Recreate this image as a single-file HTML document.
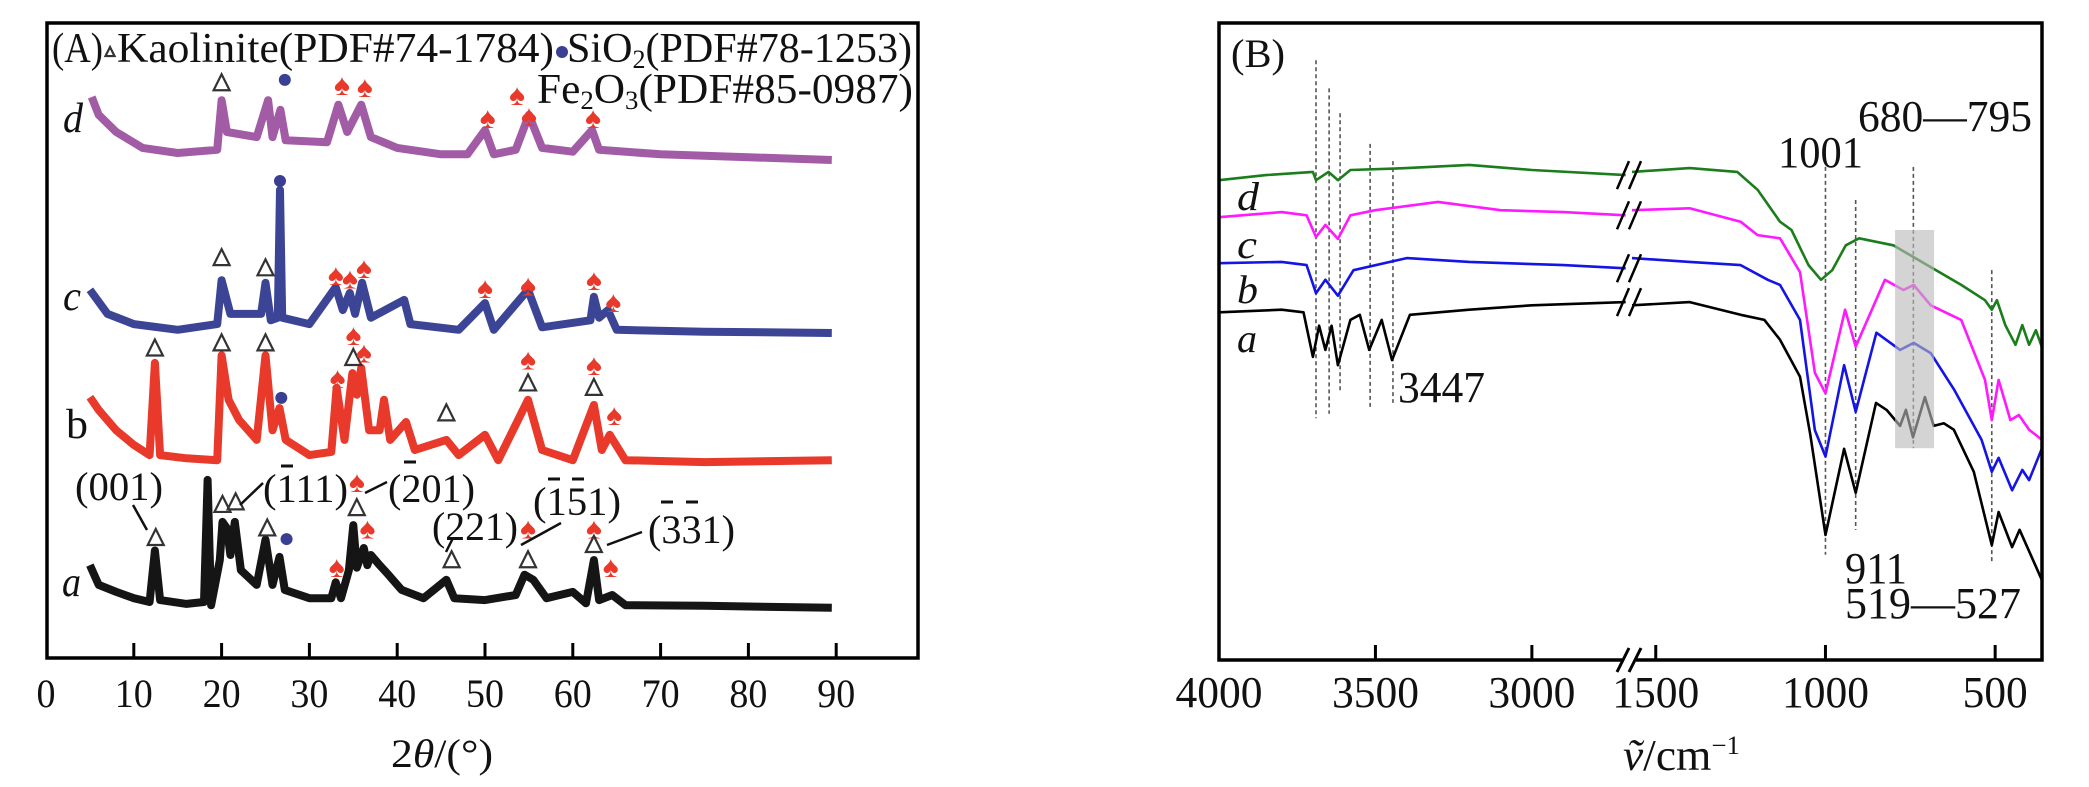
<!DOCTYPE html>
<html><head><meta charset="utf-8"><title>XRD and FTIR</title>
<style>
html,body{margin:0;padding:0;background:#fff;}
svg{display:block;font-family:"Liberation Serif","Times New Roman",Times,serif;}
text{font-family:"Liberation Serif","Times New Roman",Times,serif;}
</style></head>
<body>
<svg id="fig" width="2089" height="787" viewBox="0 0 2089 787" xmlns="http://www.w3.org/2000/svg">
<rect x="0" y="0" width="2089" height="787" fill="#fff"/>
<g id="panelA"></g>
<g id="panelB"></g>
</svg>
<script>
// ---------- Panel A data (2theta, relative intensity) ----------
const aTheta=[5,6,8,10,11.8,12.4,13,16,18,18.4,18.8,19.8,20.1,20.6,21.0,21.5,22.2,24,25,25.8,26.6,27.2,30,32.5,33.0,33.6,34.5,35.0,35.4,36.2,36.6,37.0,38.0,39,40.5,43,45.6,46.5,50,53.5,54.5,55.5,57,60,61.5,62.4,63,64.5,66,75,89.5];
const aVal=[14.6,11.5,10.4,9.4,8.8,16.9,9.1,8.5,8.8,28.0,8.3,15.4,21.4,20.4,16.2,21.4,13.8,11.5,18.6,11.5,15.9,10.7,9.4,9.4,11.9,9.4,13.8,20.9,14.2,17.3,14.6,16.2,14.6,13.1,10.7,9.4,12.3,9.4,9.1,9.9,13.1,12.3,9.4,10.4,8.6,15.4,9.1,9.9,8.3,8.2,7.9];
const bTheta=[5,6,8,10,11.8,12.4,13,16,19.5,20.0,20.8,22,24,25.0,25.8,26.6,27.3,30,32.5,33.1,34.0,34.9,35.4,35.9,36.8,38.0,38.5,39.2,41.0,42,45.6,47,50,51.5,54.9,56.5,60,62.4,63.3,64.2,66,75,89.5];
const bVal=[41.0,39.0,35.8,33.5,31.9,46.4,31.9,31.4,31.1,47.6,40.6,37.4,34.3,47.6,35.8,39.3,34.3,31.9,32.4,42.5,34.3,44.8,41.4,45.6,35.8,35.8,40.6,34.3,37.1,32.7,34.3,31.9,35.1,31.1,40.6,32.7,31.1,39.8,32.7,35.1,31.1,30.8,31.1];
const cTheta=[5,7,10,15,19.5,20.0,21,24.5,25.0,25.6,26.4,26.65,26.9,30,33.0,33.8,34.6,35.2,36.0,37,40.8,41.5,47,50,51,54.9,56.5,62.0,62.4,63,64,65,75,89.5];
const cVal=[57.9,54.1,52.5,51.6,52.5,59.4,54.1,54.1,59.0,53.1,53.5,73.6,53.5,52.5,58.3,54.7,57.4,54.1,59.0,53.5,56.3,52.5,51.6,55.8,51.6,57.9,52.0,53.1,56.8,53.5,54.7,51.6,51.3,51.1];
const dTheta=[5.2,6,8,11,15,19.5,20.0,20.6,24,25.3,25.8,26.7,27.3,32,33.3,34.3,35.9,37,40,45,48,50,51,53.5,55,56.5,60,62.2,63,70,89.5];
const dVal=[88.2,85.4,82.7,80.2,79.4,79.9,87.7,82.7,81.9,87.7,81.9,86.2,81.4,81.1,87.0,82.7,87.0,81.9,80.2,79.2,79.2,83.0,79.2,79.9,85.4,80.2,79.6,83.0,79.9,79.2,78.3];
const xTicksA=[0,10,20,30,40,50,60,70,80,90];
// markers: type t=triangle, o=SiO2 dot, s=Fe2O3 spade
const mkType=["t","o","s","s","s","s","s", "o","t","t","s","s","s","s","s","s","s", "t","t","t","s","t","s","s","o","t","s","t","s","t","s", "t","t","t","t","o","s","s","t","s","t","s","t","s","t","s"];
const mkTheta=[20.0,27.2,33.7,36.3,50.3,55.0,62.3, 26.65,20.0,25.0,33.0,34.6,36.2,50.0,54.9,62.4,64.6, 12.4,20.0,25.0,35.0,35.0,36.2,33.2,26.8,45.6,54.9,54.9,62.4,62.4,64.7, 12.5,20.1,21.6,25.2,27.4,33.1,35.4,35.4,36.6,46.2,54.9,54.9,62.4,62.4,64.3];
const mkVal=[90.4,90.9,90.1,89.8,84.9,85.2,84.9, 75.0,62.9,61.3,60.2,59.7,61.3,58.2,58.6,59.4,56.0, 48.7,49.5,49.5,50.8,47.2,48.0,44.0,40.9,38.5,46.9,43.2,46.1,42.5,38.2, 18.9,24.1,24.5,20.4,18.7,14.3,27.7,23.6,20.4,15.4,20.4,15.4,20.4,17.8,14.3];

// ---------- Panel B data (wavenumber, transmittance a.u.) ----------
const fDw=[4000,3850,3700,3690,3650,3620,3580,3400,3200,3000,2700,1570,1400,1260,1200,1134,1100,1050,1013,980,940,901,800,700,600,530,510,495,470,440,420,400,380,362];
const fDv=[75.2,76.0,76.5,75.2,76.5,75.2,76.8,77.1,77.6,76.8,76.0,76.5,77.1,76.5,73.7,68.7,67.4,61.9,59.6,61.1,65.0,66.1,65.0,61.9,58.8,56.4,54.9,56.4,52.5,49.4,52.5,49.4,51.7,49.0];
const fCw=[4000,3800,3720,3690,3660,3620,3580,3500,3300,3100,2900,2700,1570,1400,1250,1200,1134,1075,1031,1000,942,911,825,770,740,690,600,530,510,490,455,430,400,362];
const fCv=[69.4,70.2,69.7,66.3,68.2,66.0,69.7,70.5,71.8,70.5,70.2,69.7,70.5,70.8,68.7,66.6,66.1,60.8,45.0,41.8,54.9,49.1,59.6,58.0,58.8,55.6,53.3,43.9,37.6,43.9,37.6,38.4,36.1,34.5];
const fBw=[4000,3800,3720,3690,3660,3620,3570,3400,3200,2900,2700,1570,1400,1250,1170,1134,1075,1031,1000,945,911,850,780,740,690,620,540,510,490,450,420,400,362];
const fBv=[62.2,62.4,61.9,57.5,59.6,57.1,61.1,63.0,62.4,61.9,61.4,63.0,62.4,61.9,59.6,58.8,53.3,36.0,31.9,46.2,38.9,51.3,48.6,49.7,48.1,42.3,34.5,29.5,31.7,26.6,29.8,28.2,33.2];
const fAw=[4000,3800,3730,3700,3680,3660,3640,3620,3580,3550,3520,3480,3447,3390,3200,3000,2700,1570,1400,1250,1180,1134,1075,1045,1000,945,911,851,820,780,763,742,707,681,651,622,563,510,490,450,428,362];
const fAv=[54.5,54.9,54.5,47.5,52.4,48.6,52.4,46.2,53.3,54.1,48.6,53.3,47.0,54.1,54.9,55.6,56.1,55.6,56.1,54.1,53.3,50.2,44.4,35.4,19.6,33.1,26.2,40.3,39.2,36.7,39.2,34.9,41.2,36.7,37.1,36.1,29.5,18.0,23.2,17.7,20.4,12.5];
const xTicksB=[4000,3500,3000,1500,1000,500];
const guideW=[3690,3648,3613,3517,3444,1000,911,741,510];
const guideTop=[94.0,89.6,85.7,80.9,78.2,77.3,72.1,77.3,61.1];
const guideBot=[37.9,38.6,41.9,39.2,40.3,16.5,20.4,33.2,15.4];
const boxW=[795,680];
const boxV=[67.4,33.2];

// ---------- scales ----------
const NS="http://www.w3.org/2000/svg";
const SERIF="Liberation Serif, Times New Roman, Times, serif";
const xA=t=>46+8.78*t, yA=v=>658-6.36*v;
const xB=w=> w>=2000 ? 1219+(4000-w)*413/1320 : 1632+(1570-w)*410/1208;
const yB=v=>660-6.38*v;
function el(tag,attrs,parent){const e=document.createElementNS(NS,tag);for(const k in attrs)e.setAttribute(k,attrs[k]);parent.appendChild(e);return e;}
function txt(parent,x,y,s,size,len,extra){const e=el('text',Object.assign({x:x,y:y,'font-size':size,fill:'#111','font-family':SERIF},extra||{}),parent);if(len){e.setAttribute('textLength',len);e.setAttribute('lengthAdjust','spacingAndGlyphs');}e.textContent=s;return e;}

const A=document.getElementById('panelA');
const B=document.getElementById('panelB');

// ---------- Panel A curves ----------
function lineA(xs,vs,color,name){
  let d='';xs.forEach((t,i)=>{d+=(i?'L':'M')+xA(t).toFixed(1)+','+yA(vs[i]).toFixed(1);});
  const p=el('path',{d:d,fill:'none',stroke:color,'stroke-width':8,'stroke-linejoin':'round'},A);
  
  
}
lineA(dTheta,dVal,'#a25ca6','curve-d');
lineA(cTheta,cVal,'#3c4595','curve-c');
lineA(bTheta,bVal,'#e8392b','curve-b');
lineA(aTheta,aVal,'#151515','curve-a');

// markers
function tri(g,x,y,s){el('path',{d:`M${x},${y-s*0.55}L${x+s*0.5},${y+s*0.45}L${x-s*0.5},${y+s*0.45}Z`,fill:'#fff',stroke:'#333','stroke-width':2.2},g);}
function spade(g,x,y){const e=el('text',{x:x,y:y+10,'font-size':30,fill:'#e8392b','text-anchor':'middle','font-family':'DejaVu Sans, sans-serif'},g);e.textContent='\u2660';}
function dot(g,x,y){el('circle',{cx:x,cy:y,r:6,fill:'#3a3f92'},g);}
const mg=el('g',{},A);


mkType.forEach((t,i)=>{const x=xA(mkTheta[i]),y=yA(mkVal[i]);if(t==='t')tri(mg,x,y,16);else if(t==='o')dot(mg,x,y);else spade(mg,x,y);});

// frame A
el('rect',{x:47,y:23,width:871,height:635,fill:'none',stroke:'#000','stroke-width':3.5},A);
xTicksA.forEach(t=>{const x=xA(t);if(t>0)el('line',{x1:x,y1:658,x2:x,y2:643,stroke:'#000','stroke-width':3},A);
  const e=txt(A,x,707,String(t),40,t<10?19:38,{'text-anchor':'middle'});});
const xl=txt(A,391,767,'',40,102,{});
xl.innerHTML='2<tspan font-style="italic">θ</tspan>/(°)';


// legend/title
const ttl=txt(A,52,62,'(A)',42,51,{});
tri(A,110,52,9);
txt(A,117,62,'Kaolinite(PDF#74-1784)',42,437,{});
dot(A,562,52);
const si=txt(A,567,62,'',42,345,{});si.innerHTML='SiO<tspan font-size="26" dy="6">2</tspan><tspan dy="-6">(PDF#78-1253)</tspan>';

spade(A,517,95);
const fe=txt(A,537,103,'',42,376,{});fe.innerHTML='Fe<tspan font-size="26" dy="6">2</tspan><tspan dy="-6">O</tspan><tspan font-size="26" dy="6">3</tspan><tspan dy="-6">(PDF#85-0987)</tspan>';

// sample letters
txt(A,63,132,'d',42,20,{'font-style':'italic'});
txt(A,63,310,'c',42,18,{'font-style':'italic'});
txt(A,66,438,'b',42,22,{});
txt(A,62,596,'a',42,19,{'font-style':'italic'});
// hkl labels
const hk=el('g',{},A);


txt(hk,75,500,'(001)',40,88,{});
txt(hk,263,502,'(111)',40,85,{});
txt(hk,388,502,'(201)',40,87,{});
txt(hk,432,540,'(221)',40,86,{});
txt(hk,533,515,'(151)',40,88,{});
txt(hk,648,543,'(331)',40,87,{});
[[281,293,466],[404,416,462],[548,560,479],[572,584,479],[661,673,502],[686,698,502]].forEach(b=>el('line',{x1:b[0],y1:b[2],x2:b[1],y2:b[2],stroke:'#111','stroke-width':3},hk));
[[147,530,133,505],[240,505,263,483],[365,493,387,482],[446,552,453,538],[521,545,561,523],[607,545,642,532]].forEach(l=>el('line',{x1:l[0],y1:l[1],x2:l[2],y2:l[3],stroke:'#111','stroke-width':2.5},hk));

// ---------- Panel B ----------
const gl=el('g',{},B);


guideW.forEach((w,i)=>el('line',{x1:xB(w),y1:yB(guideTop[i]),x2:xB(w),y2:yB(guideBot[i]),stroke:'#555','stroke-width':1.6,'stroke-dasharray':'4,3'},gl));
function lineB(ws,vs,color,name){
  let d='',prev=null;ws.forEach((w,i)=>{const seg=w>=2000;d+=((prev===null||prev!==seg)?'M':'L')+xB(w).toFixed(1)+','+yB(vs[i]).toFixed(1);prev=seg;});
  const p=el('path',{d:d,fill:'none',stroke:color,'stroke-width':2.6,'stroke-linejoin':'round'},B);
  
  
  const yl=yB(vs[ws.indexOf(2700)]);
  [1623,1635].forEach(x=>el('line',{x1:x-6,y1:yl+14,x2:x+6,y2:yl-14,stroke:'#000','stroke-width':2.5},B));
}
lineB(fDw,fDv,'#1b7d1b','ftir-d');
lineB(fCw,fCv,'#ff19ff','ftir-c');
lineB(fBw,fBv,'#1414e6','ftir-b');
lineB(fAw,fAv,'#000','ftir-a');
const bx=el('rect',{x:xB(boxW[0]),y:yB(boxV[0]),width:xB(boxW[1])-xB(boxW[0]),height:yB(boxV[1])-yB(boxV[0]),fill:'rgba(185,185,185,0.62)'},B);



el('rect',{x:1219,y:23,width:823,height:637,fill:'none',stroke:'#000','stroke-width':3.5},B);
el('rect',{x:1622,y:650,width:14,height:20,fill:'#fff'},B);
[1623,1635].forEach(x=>el('line',{x1:x-6,y1:672,x2:x+6,y2:648,stroke:'#000','stroke-width':3},B));
xTicksB.forEach(w=>{const x=xB(w);if(w<4000)el('line',{x1:x,y1:660,x2:x,y2:645,stroke:'#000','stroke-width':3},B);
  const e=txt(B,x,707,String(w),44,w>=1000?87:65,{'text-anchor':'middle'});});
const xb=txt(B,1623,770,'',44,117,{});
xb.innerHTML='<tspan font-style="italic">ṽ</tspan>/cm<tspan font-size="26" dy="-16">−1</tspan>';

txt(B,1231,67,'(B)',40,54,{});
txt(B,1778,167,'1001',44,85,{});
txt(B,1858,131,'680—795',44,174,{});
txt(B,1398,402,'3447',44,87,{});
txt(B,1845,583,'911',44,62,{});
txt(B,1845,618,'519—527',44,176,{});
txt(B,1237,210,'d',40,22,{'font-style':'italic'});
txt(B,1237,258,'c',40,20,{'font-style':'italic'});
txt(B,1237,303,'b',40,21,{'font-style':'italic'});
txt(B,1237,352,'a',40,20,{'font-style':'italic'});
</script>
</body></html>
